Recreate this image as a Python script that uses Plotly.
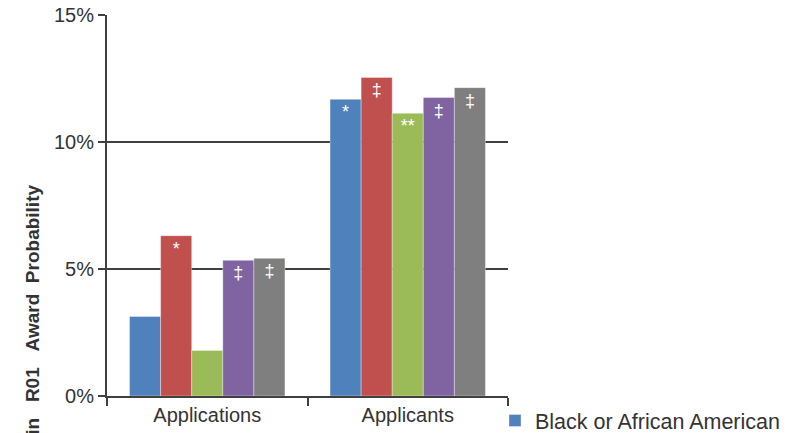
import plotly.graph_objects as go

# Award probability (%) by group, for applications and for applicants
categories = ["Applications", "Applicants"]
series_names = ["Black or African American", "Group 2", "Group 3", "Group 4", "Group 5"]
values = [
    [3.13, 11.68],
    [6.31, 12.54],
    [1.79, 11.13],
    [5.34, 11.75],
    [5.42, 12.14],
]
# significance markers printed inside each bar
markers = [
    ["", "*"],
    ["*", "‡"],
    ["", "**"],
    ["‡", "‡"],
    ["‡", "‡"],
]
colors = ["#4F81BD", "#C0504D", "#9BBB59", "#8064A2", "#7F7F7F"]

tick_vals = [0, 5, 10, 15]
tick_text = ["0%", "5%", "10%", "15%"]

y_title_words = ["Increase", "in", "R01", "Award", "Probability"]
# number of spaces placed after each word (last word has none)
y_title_gaps = [2, 3, 3, 2, 0]

FONT = "Liberation Sans, Arial, sans-serif"
INK = "#333333"
LINE = "#404040"

fig = go.Figure()
for name, vals, marks, color, i in zip(series_names, values, markers, colors, range(5)):
    fig.add_trace(go.Bar(
        x=categories,
        y=vals,
        name=name,
        marker=dict(color=color, line=dict(width=0.6, color="rgba(255,255,255,0.6)")),
        text=marks,
        textposition="inside",
        insidetextanchor="end",
        textangle=0,
        textfont=dict(color="white", size=18, family=FONT),
        showlegend=(i == 0),
    ))

W, H = 794, 433
L, R, T, B = 107, 286, 15, 37
PW, PH = W - L - R, H - T - B

# widely spaced words in the axis title
y_title = "<b>" + "".join(w + "\u00a0" * g for w, g in zip(y_title_words, y_title_gaps)) + "</b>"

fig.update_layout(
    width=W,
    height=H,
    margin=dict(l=L, r=R, t=T, b=B, pad=0, autoexpand=False),
    paper_bgcolor="white",
    plot_bgcolor="white",
    barmode="group",
    bargap=0.225,
    bargroupgap=0,
    font=dict(family=FONT, size=20, color=INK),
    legend=dict(
        orientation="h",
        x=(495 - L) / PW,
        xanchor="left",
        y=-(400 - (H - B)) / PH,
        yanchor="top",
        font=dict(size=21.5, color=INK, family=FONT),
        bgcolor="rgba(0,0,0,0)",
        itemclick=False,
        itemdoubleclick=False,
    ),
    annotations=[
        dict(
            text=y_title,
            textangle=-90,
            xref="paper",
            yref="paper",
            x=-(L - 44) / PW,
            xanchor="right",
            y=(H - B - 182) / PH,
            yanchor="top",
            showarrow=False,
            font=dict(size=19, color=INK, family=FONT),
        )
    ],
)

fig.update_xaxes(
    showline=True,
    linecolor=LINE,
    linewidth=2,
    ticks="outside",
    tickson="boundaries",
    ticklen=8,
    tickwidth=2,
    tickcolor=LINE,
    showgrid=False,
    tickfont=dict(size=20, color=INK),
)

fig.update_yaxes(
    range=[0, 15],
    tickvals=tick_vals,
    ticktext=tick_text,
    showline=True,
    linecolor=LINE,
    linewidth=2,
    ticks="outside",
    ticklen=7,
    tickwidth=2,
    tickcolor=LINE,
    showgrid=True,
    gridcolor=LINE,
    gridwidth=2,
    zeroline=False,
    tickfont=dict(size=20, color=INK),
)

fig.write_html("out.html")
